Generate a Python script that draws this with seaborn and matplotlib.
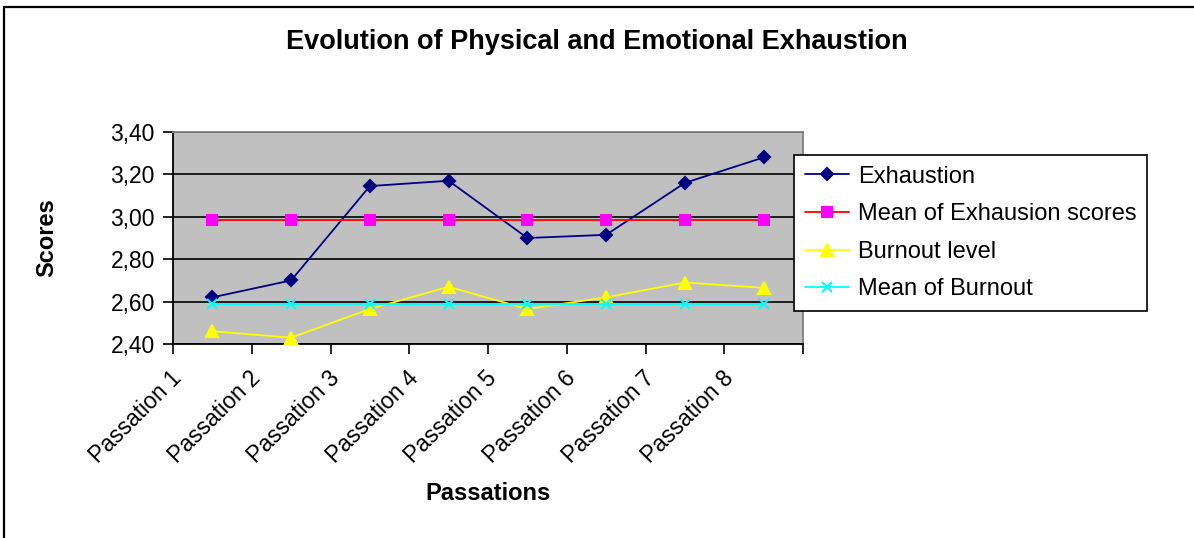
import numpy as np
import pandas as pd
import matplotlib
matplotlib.use("Agg")
import matplotlib.pyplot as plt
import matplotlib.transforms as mtransforms
from matplotlib.lines import Line2D
from matplotlib.ticker import FixedLocator
import seaborn as sns

# Données
passations = ["Passation 1", "Passation 2", "Passation 3", "Passation 4",
              "Passation 5", "Passation 6", "Passation 7", "Passation 8"]
exhaustion = [2.62, 2.70, 3.145, 3.17, 2.90, 2.915, 3.16, 3.28]
mean_exhaustion = [2.987, 2.987, 2.987, 2.987, 2.987, 2.987, 2.987, 2.987]
burnout = [2.46, 2.43, 2.565, 2.67, 2.565, 2.62, 2.69, 2.665]
mean_burnout = [2.59, 2.59, 2.59, 2.59, 2.59, 2.59, 2.59, 2.59]
y_ticks = [2.40, 2.60, 2.80, 3.00, 3.20, 3.40]
y_tick_labels = ["2,40", "2,60", "2,80", "3,00", "3,20", "3,40"]

sns.set_style("ticks")
plt.rcParams['font.family'] = ['Liberation Sans', 'DejaVu Sans']
plt.rcParams.update({'text.color': 'black', 'axes.labelcolor': 'black',
                     'xtick.color': 'black', 'ytick.color': 'black'})

W, H = 1194, 538
fig = plt.figure(figsize=(W / 100, H / 100), dpi=100)
ax = fig.add_axes([173 / W, 1 - 344 / H, 630 / W, 212 / H])
ax.set_facecolor('#C0C0C0')

x = np.arange(len(passations))
df = pd.DataFrame({'x': x, 'Exhaustion': exhaustion,
                   'Mean of Exhausion scores': mean_exhaustion,
                   'Burnout level': burnout, 'Mean of Burnout': mean_burnout})

# (série, couleur ligne, marqueur, couleur marqueur, taille)
styles = [
    ('Exhaustion', '#000080', 'D', '#000080', 6),
    ('Mean of Exhausion scores', '#FF0000', 's', '#FF00FF', 7),
    ('Burnout level', '#FFFF00', '^', '#FFFF00', 8),
    ('Mean of Burnout', '#00FFFF', 'x', '#00FFFF', 7),
]
for nom, couleur, marq, coul_marq, taille in styles:
    sns.lineplot(data=df, x='x', y=nom, ax=ax, color=couleur, linewidth=1.3,
                 marker=marq, markersize=taille, markerfacecolor=coul_marq,
                 markeredgecolor=coul_marq, markeredgewidth=1.5, label=nom,
                 zorder=3)

ax.set_xlim(-0.5, len(passations) - 0.5)
ax.set_ylim(2.40, 3.40)
ax.set_yticks(y_ticks)
ax.set_yticklabels(y_tick_labels, fontsize=16.5)
ax.grid(axis='y', color='black', linewidth=1.2)
ax.set_axisbelow(True)

# étiquettes au centre, graduations aux frontières (style Excel)
ax.set_xticks(x)
ax.set_xticklabels(passations, fontsize=16.5, rotation=45, ha='right',
                   va='center', rotation_mode='anchor')
ax.xaxis.set_minor_locator(FixedLocator(np.arange(len(passations) + 1) - 0.5))
ax.tick_params(axis='x', which='major', length=0, pad=22)
ax.tick_params(axis='x', which='minor', length=7, width=1.2, color='black')
ax.tick_params(axis='y', length=7, width=1.2, color='black', pad=6)
decalage = mtransforms.ScaledTranslation(-0.34, 0, fig.dpi_scale_trans)
for lab in ax.get_xticklabels():
    lab.set_transform(lab.get_transform() + decalage)

for cote in ['left', 'bottom']:
    ax.spines[cote].set_color('black')
    ax.spines[cote].set_linewidth(1.3)
for cote in ['top', 'right']:
    ax.spines[cote].set_visible(True)
    ax.spines[cote].set_color('#808080')
    ax.spines[cote].set_linewidth(1.3)

ax.set_xlabel('Passations', fontsize=17, fontweight='bold')
ax.xaxis.set_label_coords(0.5, (344 - 493) / 212)
ax.xaxis.label.set_va('center')
ax.set_ylabel('Scores', fontsize=17, fontweight='bold')
ax.yaxis.set_label_coords((47 - 173) / 630, 0.5)
ax.yaxis.label.set_va('center')

fig.suptitle('Evolution of Physical and Emotional Exhaustion', fontsize=19.5,
             fontweight='bold', x=0.5, y=1 - 42 / H, va='center')

handles, labels = ax.get_legend_handles_labels()
ax.get_legend().remove()
leg = fig.legend(handles, labels, loc='upper left',
                 bbox_to_anchor=(794 / W, 1 - 155 / H), borderaxespad=0,
                 fontsize=17, frameon=True, fancybox=False, shadow=False,
                 framealpha=1, edgecolor='black', labelspacing=0.66,
                 handlelength=1.9, handletextpad=0.35, borderpad=0.45,
                 numpoints=1)
leg.get_frame().set_linewidth(1.2)

# cadre du graphique
fig.add_artist(Line2D([4 / W, 1], [1 - 7 / H, 1 - 7 / H],
                      transform=fig.transFigure, color='black', linewidth=1.6))
fig.add_artist(Line2D([4 / W, 4 / W], [0, 1 - 7 / H],
                      transform=fig.transFigure, color='black', linewidth=1.6))

fig.savefig('out.png', dpi=100, facecolor='white')
